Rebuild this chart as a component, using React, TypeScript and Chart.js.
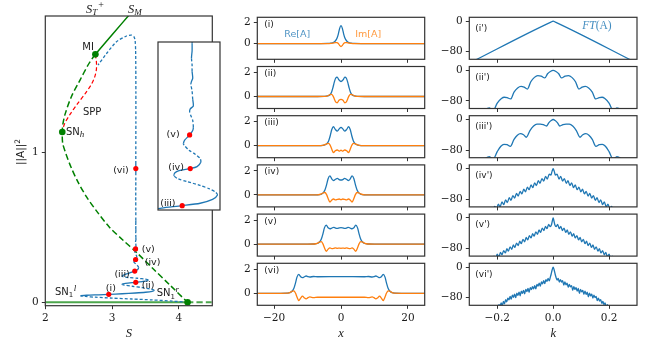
import React, { useEffect, useMemo, useRef } from "react";
import { Chart, registerables } from "chart.js";
Chart.register(...registerables);

// ---------------- Left panel: bifurcation diagram (S vs ||A||^2) ----------------
const homoUpperS = [2.75, 3.0, 3.3];
const homoUpperY = [1.65, 1.78, 1.935];
const homoMidS = [2.75, 2.7, 2.64, 2.52, 2.39, 2.3, 2.265, 2.254, 2.26, 2.3, 2.384, 2.49, 2.62, 2.78, 2.96, 3.16, 3.37, 3.61, 3.865, 4.13];
const homoMidY = [1.65, 1.62, 1.579, 1.479, 1.368, 1.257, 1.19, 1.133, 1.06, 1.0, 0.9, 0.8, 0.7, 0.6, 0.5, 0.415, 0.33, 0.225, 0.115, 0.0];
const homoLowS = [2.0, 4.13];
const homoLowY = [0, 0];
const homoLowDashS = [4.13, 4.5];
const homoLowDashY = [0, 0];
const sppS = [2.75, 2.765, 2.765, 2.74, 2.69, 2.6, 2.48, 2.37, 2.29, 2.255];
const sppY = [1.65, 1.6, 1.55, 1.5, 1.45, 1.39, 1.32, 1.25, 1.19, 1.14];
const markS = [2.75, 2.254, 4.13];
const markY = [1.65, 1.133, 0.0];

const snakeS = [4.13, 3.9, 3.6, 3.3, 3.0, 2.75, 2.6, 2.53, 2.62, 2.8, 2.95, 3.15, 3.35, 3.5, 3.6, 3.63, 3.58, 3.45, 3.3, 3.18,
  3.15, 3.2, 3.354, 3.45, 3.52, 3.54, 3.5, 3.38, 3.25, 3.17, 3.15, 3.18, 3.25, 3.306, 3.339, 3.368, 3.388, 3.396, 3.393, 3.383,
  3.368, 3.347, 3.332, 3.326, 3.327, 3.334, 3.352, 3.363, 3.369, 3.368, 3.36, 3.35, 3.342, 3.341, 3.343, 3.351, 3.356, 3.357, 3.356, 3.353,
  3.351, 3.352, 3.357, 3.356, 3.355, 3.353, 3.354, 3.356, 3.355, 3.355, 3.354, 3.355, 3.355, 3.355, 3.354, 3.355, 3.355, 3.355, 3.355, 3.356,
  3.356, 3.355, 3.352, 3.345, 3.33, 3.29, 3.215, 3.066, 2.92, 2.79];
const snakeY = [0.0, 0.008, 0.016, 0.022, 0.028, 0.034, 0.039, 0.043, 0.047, 0.05, 0.053, 0.057, 0.062, 0.067, 0.073, 0.08, 0.088, 0.098, 0.107, 0.115,
  0.121, 0.126, 0.133, 0.138, 0.143, 0.149, 0.154, 0.16, 0.165, 0.17, 0.176, 0.183, 0.193, 0.203, 0.208, 0.213, 0.221, 0.23, 0.236, 0.243,
  0.25, 0.258, 0.264, 0.27, 0.276, 0.281, 0.285, 0.289, 0.298, 0.306, 0.315, 0.323, 0.334, 0.337, 0.344, 0.355, 0.364, 0.371, 0.385, 0.395,
  0.402, 0.409, 0.415, 0.429, 0.446, 0.46, 0.466, 0.473, 0.487, 0.5, 0.515, 0.53, 0.545, 0.6, 0.7, 0.8, 0.86, 0.92, 1.0, 1.2,
  1.4, 1.55, 1.68, 1.74, 1.765, 1.778, 1.772, 1.734, 1.657, 1.579];
const snakeStable = [0, 0, 0, 0, 0, 0, 0, 1, 1, 1, 1, 1, 1, 1, 1, 0, 0, 0, 0, 0,
  1, 1, 1, 1, 1, 0, 0, 0, 0, 0, 1, 1, 1, 1, 1, 1, 1, 0, 0, 0,
  0, 0, 0, 1, 1, 1, 1, 1, 0, 0, 0, 0, 0, 1, 1, 1, 1, 0, 0, 0,
  1, 1, 1, 0, 0, 1, 1, 1, 0, 0, 1, 1, 0, 0, 0, 0, 1, 0, 0, 0,
  0, 0, 0, 0, 0, 0, 0, 0, 0, 0];
const dotS = [2.95, 3.354, 3.339, 3.352, 3.351, 3.355];
const dotY = [0.053, 0.133, 0.208, 0.285, 0.355, 0.89];

// ---------------- Middle panels: Re[A], Im[A] vs x ----------------
const xI = [-25, -6, -4, -3, -2.3, -1.7, -1.2, -0.8, -0.4, 0, 0.4, 0.8, 1.2, 1.7, 2.3, 3, 4, 6, 25];
const reI = [0, 0, 0.01, 0.04, 0.1, 0.24, 0.5, 0.9, 1.45, 1.7, 1.45, 0.9, 0.5, 0.24, 0.1, 0.04, 0.01, 0, 0];
const imI = [0, 0, 0, 0.02, 0.05, 0.08, 0.08, 0.0, -0.18, -0.28, -0.18, 0.0, 0.08, 0.08, 0.05, 0.02, 0, 0, 0];

const xII = [-25, -7, -5, -4, -3.3, -2.8, -2.4, -2.0, -1.6, -1.15, -0.6, 0, 0.6, 1.15, 1.6, 2.0, 2.4, 2.8, 3.3, 4, 5, 7, 25];
const reII = [0, 0, 0.01, 0.05, 0.15, 0.38, 0.75, 1.2, 1.52, 1.61, 1.38, 1.25, 1.38, 1.61, 1.52, 1.2, 0.75, 0.38, 0.15, 0.05, 0.01, 0, 0];
const imII = [0, 0, 0.01, 0.06, 0.15, 0.17, 0.05, -0.2, -0.45, -0.52, -0.32, -0.24, -0.32, -0.52, -0.45, -0.2, 0.05, 0.17, 0.15, 0.06, 0.01, 0, 0];

const xIII = [-25, -8, -6, -5, -4.3, -3.7, -3.2, -2.75, -2.25, -1.7, -1.1, -0.55, 0, 0.55, 1.1, 1.7, 2.25, 2.75, 3.2, 3.7, 4.3, 5, 6, 8, 25];
const reIII = [0, 0, 0.01, 0.05, 0.15, 0.4, 0.85, 1.35, 1.58, 1.36, 1.22, 1.4, 1.52, 1.4, 1.22, 1.36, 1.58, 1.35, 0.85, 0.4, 0.15, 0.05, 0.01, 0, 0];
const imIII = [0, 0, 0.01, 0.06, 0.16, 0.2, 0.02, -0.3, -0.57, -0.42, -0.36, -0.45, -0.38, -0.45, -0.36, -0.42, -0.57, -0.3, 0.02, 0.2, 0.16, 0.06, 0.01, 0, 0];

const xIV = [-25, -9, -7, -6, -5.4, -4.8, -4.3, -3.85, -3.3, -2.75, -2.2, -1.65, -1.1, -0.55, 0, 0.55, 1.1, 1.65, 2.2, 2.75, 3.3, 3.85, 4.3, 4.8, 5.4, 6, 7, 9, 25];
const reIV = [0, 0, 0.01, 0.05, 0.15, 0.4, 0.85, 1.35, 1.58, 1.33, 1.2, 1.3, 1.38, 1.28, 1.24, 1.28, 1.38, 1.3, 1.2, 1.33, 1.58, 1.35, 0.85, 0.4, 0.15, 0.05, 0.01, 0, 0];
const imIV = [0, 0, 0.01, 0.06, 0.16, 0.2, 0.02, -0.3, -0.6, -0.42, -0.34, -0.42, -0.38, -0.34, -0.4, -0.34, -0.38, -0.42, -0.34, -0.42, -0.6, -0.3, 0.02, 0.2, 0.16, 0.06, 0.01, 0, 0];

const xV = [-25, -10, -8, -7.1, -6.5, -5.9, -5.4, -4.95, -4.4, -3.85, -3.3, -2.75, -2.2, -1.65, -1.1, -0.55, 0, 0.55, 1.1, 1.65, 2.2, 2.75, 3.3, 3.85, 4.4, 4.95, 5.4, 5.9, 6.5, 7.1, 8, 10, 25];
const reV = [0, 0, 0.01, 0.05, 0.15, 0.4, 0.85, 1.35, 1.58, 1.36, 1.28, 1.34, 1.4, 1.34, 1.31, 1.35, 1.38, 1.35, 1.31, 1.34, 1.4, 1.34, 1.28, 1.36, 1.58, 1.35, 0.85, 0.4, 0.15, 0.05, 0.01, 0, 0];
const imV = [0, 0, 0.01, 0.06, 0.16, 0.2, 0.02, -0.3, -0.6, -0.42, -0.32, -0.38, -0.36, -0.32, -0.35, -0.33, -0.35, -0.33, -0.35, -0.32, -0.36, -0.38, -0.32, -0.42, -0.6, -0.3, 0.02, 0.2, 0.16, 0.06, 0.01, 0, 0];

const xVI = [-25, -18, -16, -15.3, -14.7, -14.1, -13.6, -13.15, -12.6, -12.05, -11.5, -10.95, -10.4, -9.85, -9.3, -8.2, -7, 0, 7, 8.2, 9.3, 9.85, 10.4, 10.95, 11.5, 12.05, 12.6, 13.15, 13.6, 14.1, 14.7, 15.3, 16, 18, 25];
const reVI = [0, 0, 0.01, 0.05, 0.15, 0.4, 0.85, 1.35, 1.58, 1.38, 1.3, 1.38, 1.44, 1.38, 1.36, 1.4, 1.38, 1.39, 1.38, 1.4, 1.36, 1.38, 1.44, 1.38, 1.3, 1.38, 1.58, 1.35, 0.85, 0.4, 0.15, 0.05, 0.01, 0, 0];
const imVI = [0, 0, 0.01, 0.06, 0.16, 0.2, 0.02, -0.3, -0.6, -0.4, -0.24, -0.38, -0.46, -0.36, -0.3, -0.36, -0.33, -0.33, -0.33, -0.36, -0.3, -0.36, -0.46, -0.38, -0.24, -0.4, -0.6, -0.3, 0.02, 0.2, 0.16, 0.06, 0.01, 0, 0];

// ---------------- Right panels: FT(A) in dB vs k ----------------
const kI = [-0.3, -0.008, 0, 0.008, 0.3];
const dbI = [-110, -2.5, 0, -2.5, -110];

const kII = [-0.3, -0.26, -0.24, -0.228, -0.215, -0.2, -0.185, -0.175, -0.165, -0.152, -0.14, -0.127, -0.115, -0.104, -0.092, -0.08, -0.067, -0.055, -0.043, -0.03, -0.02, -0.01, 0,
  0.01, 0.02, 0.03, 0.043, 0.055, 0.067, 0.08, 0.092, 0.104, 0.115, 0.127, 0.14, 0.152, 0.165, 0.175, 0.185, 0.2, 0.215, 0.228, 0.24, 0.26, 0.3];
const dbII = [-150, -125, -102, -98.5, -106, -86, -74, -70.5, -71.5, -75, -57, -46, -42, -44, -49, -30, -18.5, -14, -15, -20, -9, -3, 0,
  -3, -9, -20, -15, -14, -18.5, -30, -49, -44, -42, -46, -57, -75, -71.5, -70.5, -74, -86, -106, -98.5, -102, -125, -150];

const kIII = [-0.3, -0.26, -0.24, -0.228, -0.215, -0.2, -0.187, -0.176, -0.165, -0.153, -0.14, -0.128, -0.117, -0.106, -0.096, -0.083, -0.07, -0.058, -0.046, -0.035, -0.024, -0.015, -0.007, 0,
  0.007, 0.015, 0.024, 0.035, 0.046, 0.058, 0.07, 0.083, 0.096, 0.106, 0.117, 0.128, 0.14, 0.153, 0.165, 0.176, 0.187, 0.2, 0.215, 0.228, 0.24, 0.26, 0.3];
const dbIII = [-150, -122, -101, -97, -104, -84, -70, -65, -66, -70.5, -52, -41, -37, -40, -46.5, -29, -17, -12, -12, -13.5, -17, -8, -2.5, 0,
  -2.5, -8, -17, -13.5, -12, -12, -17, -29, -46.5, -40, -37, -41, -52, -70.5, -66, -65, -70, -84, -104, -97, -101, -122, -150];

const kIV = [-0.3, -0.222, -0.216, -0.209, -0.203, -0.196, -0.19, -0.183, -0.177, -0.17, -0.164, -0.157, -0.151, -0.144, -0.138, -0.131, -0.125, -0.118, -0.112, -0.105, -0.099, -0.092, -0.086, -0.079, -0.073, -0.066, -0.06, -0.053, -0.047, -0.04, -0.034, -0.027, -0.021, -0.014, -0.008, -0.004, 0,
  0.004, 0.008, 0.014, 0.021, 0.027, 0.034, 0.04, 0.047, 0.053, 0.06, 0.066, 0.073, 0.079, 0.086, 0.092, 0.099, 0.105, 0.112, 0.118, 0.125, 0.131, 0.138, 0.144, 0.151, 0.157, 0.164, 0.17, 0.177, 0.183, 0.19, 0.196, 0.203, 0.209, 0.216, 0.222, 0.3];
const dbIV = [-140, -104, -111, -98.4, -105, -92.8, -99.5, -87.2, -94, -81.6, -88.5, -76, -83, -70.4, -77, -64.8, -71.5, -59.2, -66, -53.6, -60.5, -48, -55, -42.5, -49.5, -36.9, -44, -31.3, -38, -25.7, -32.5, -20, -27, -14.5, -16.5, -7, 0,
  -7, -16.5, -14.5, -27, -20, -32.5, -25.7, -38, -31.3, -44, -36.9, -49.5, -42.5, -55, -48, -60.5, -53.6, -66, -59.2, -71.5, -64.8, -77, -70.4, -83, -76, -88.5, -81.6, -94, -87.2, -99.5, -92.8, -105, -98.4, -111, -104, -140];

const kV = [-0.3, -0.217, -0.2115, -0.206, -0.2, -0.194, -0.1885, -0.183, -0.177, -0.171, -0.1655, -0.16, -0.154, -0.148, -0.1425, -0.137, -0.131, -0.125, -0.1195, -0.114, -0.108, -0.102, -0.0965, -0.091, -0.085, -0.079, -0.0735, -0.068, -0.062, -0.056, -0.0505, -0.045, -0.039, -0.033, -0.0275, -0.022, -0.016, -0.0105, -0.006, -0.003, 0,
  0.003, 0.006, 0.0105, 0.016, 0.022, 0.0275, 0.033, 0.039, 0.045, 0.0505, 0.056, 0.062, 0.068, 0.0735, 0.079, 0.085, 0.091, 0.0965, 0.102, 0.108, 0.114, 0.1195, 0.125, 0.131, 0.137, 0.1425, 0.148, 0.154, 0.16, 0.1655, 0.171, 0.177, 0.183, 0.1885, 0.194, 0.2, 0.206, 0.2115, 0.217, 0.3];
const dbV = [-140, -111.5, -100.1, -106.5, -95.2, -101.5, -90.3, -96.7, -85.4, -91.8, -80.6, -86.9, -75.7, -82, -70.8, -77.1, -65.9, -72.2, -61, -67.3, -56.1, -62.5, -51.2, -57.5, -46.3, -52.5, -41.4, -47.7, -36.6, -42.8, -31.7, -38, -26.8, -33, -21.9, -28, -17, -23, -18, -8, 0,
  -8, -18, -23, -17, -28, -21.9, -33, -26.8, -38, -31.7, -42.8, -36.6, -47.7, -41.4, -52.5, -46.3, -57.5, -51.2, -62.5, -56.1, -67.3, -61, -72.2, -65.9, -77.1, -70.8, -82, -75.7, -86.9, -80.6, -91.8, -85.4, -96.7, -90.3, -101.5, -95.2, -106.5, -100.1, -111.5, -140];

const kVI = [-0.214, -0.21, -0.206, -0.202, -0.198, -0.194, -0.19, -0.186, -0.182, -0.178, -0.174, -0.17, -0.166, -0.162, -0.158, -0.154, -0.15, -0.146, -0.142, -0.138, -0.134, -0.13, -0.126, -0.122, -0.118, -0.114,
  -0.11, -0.106, -0.102, -0.098, -0.094, -0.09, -0.086, -0.082, -0.078, -0.074, -0.07, -0.066, -0.062, -0.058, -0.054, -0.05, -0.046, -0.042, -0.038, -0.034, -0.03, -0.026, -0.022, -0.018, -0.014, -0.01, -0.007, -0.0035, 0,
  0.0035, 0.007, 0.01, 0.014, 0.018, 0.022, 0.026, 0.03, 0.034, 0.038, 0.042, 0.046, 0.05, 0.054, 0.058, 0.062, 0.066, 0.07, 0.074, 0.078, 0.082, 0.086, 0.09, 0.094, 0.098, 0.102, 0.106,
  0.11, 0.114, 0.118, 0.122, 0.126, 0.13, 0.134, 0.138, 0.142, 0.146, 0.15, 0.154, 0.158, 0.162, 0.166, 0.17, 0.174, 0.178, 0.182, 0.186, 0.19, 0.194, 0.198, 0.202, 0.206, 0.21, 0.214];
const dbVI = [-113, -106, -110, -102, -108, -98, -103, -94, -101, -90, -96, -85, -91, -81, -86, -76.5, -84, -73.5, -79, -71, -80, -68, -74, -65.5, -75, -63,
  -69, -61, -70, -58.5, -64, -56, -66, -53.5, -59, -51, -57, -48.5, -57, -45, -50, -42, -50, -39, -44, -35.5, -43, -32.5, -37, -29.5, -36, -26, -18, -7, 0,
  -7, -18, -26, -34, -29.5, -39, -32.5, -39, -35.5, -47, -39, -46.5, -42, -52.5, -45, -52, -48.5, -61, -51, -58.5, -53.5, -63, -56, -69, -58.5, -64.5, -61,
  -71, -63, -71.5, -65.5, -78, -68, -75.5, -71, -81, -73.5, -80, -76.5, -88, -81, -89, -85, -95, -90, -98, -94, -105, -98, -106, -102, -112, -106, -114];

// ---------------- styling ----------------
const SANS = '"DejaVu Sans", "Noto Sans", sans-serif';
const SERIF = '"DejaVu Serif", "Liberation Serif", serif';
const ISERIF = '"Liberation Serif", "DejaVu Serif", serif';
const BLUE = "#1f77b4";
const ORANGE = "#ff7f0e";
const GREEN = "#008000";
const RED = "#ff0000";
const FRAME = "#333333";
const TXT = "#1a1a1a";

const pts = (xs: number[], ys: number[]) => xs.map((x, i) => ({ x, y: ys[i] }));
const fmtNum = (v: number, d = 0) => {
  const s = Math.abs(v).toFixed(d);
  return v < 0 ? "\u2212" + s : s;
};

type Part = { t: string; f: string; dy?: number; dx?: number; c?: string };
type Label = { at: "data" | "page" | "area"; x: number; y: number; parts: Part[]; align?: "left" | "center" | "right"; rot?: number; c?: string };
type AxisSpec = { min: number; max: number; ticks: number[]; labels: boolean; fmt: (v: number) => string };
type PanelSpec = {
  box: [number, number, number, number];
  area: [number, number, number, number];
  x: AxisSpec;
  y: AxisSpec;
  axes: boolean;
  datasets: any[];
  labels: Label[];
  bg?: string;
};

function decoPlugin(spec: PanelSpec) {
  return {
    id: "deco",
    beforeDatasetsDraw(chart: any) {
      if (!spec.bg) return;
      const { ctx, chartArea: a } = chart;
      ctx.save();
      ctx.fillStyle = spec.bg;
      ctx.fillRect(a.left, a.top, a.right - a.left, a.bottom - a.top);
      ctx.restore();
    },
    afterDraw(chart: any) {
      const { ctx, chartArea: a, scales } = chart;
      ctx.save();
      ctx.strokeStyle = FRAME;
      ctx.lineWidth = 1.2;
      ctx.strokeRect(a.left, a.top, a.right - a.left, a.bottom - a.top);
      for (const L of spec.labels) {
        let px: number, py: number;
        if (L.at === "data") {
          px = scales.x.getPixelForValue(L.x);
          py = scales.y.getPixelForValue(L.y);
        } else if (L.at === "area") {
          px = a.left + L.x;
          py = a.top + L.y;
        } else {
          px = L.x - spec.box[0];
          py = L.y - spec.box[1];
        }
        ctx.save();
        ctx.translate(px, py);
        if (L.rot) ctx.rotate(L.rot);
        ctx.textBaseline = "alphabetic";
        ctx.textAlign = "left";
        let w = 0;
        for (const p of L.parts) {
          ctx.font = p.f;
          w += ctx.measureText(p.t).width + (p.dx || 0);
        }
        let cx = L.align === "right" ? -w : L.align === "center" ? -w / 2 : 0;
        for (const p of L.parts) {
          ctx.font = p.f;
          ctx.fillStyle = p.c || L.c || TXT;
          cx += p.dx || 0;
          ctx.fillText(p.t, cx, p.dy || 0);
          cx += ctx.measureText(p.t).width;
        }
        ctx.restore();
      }
      ctx.restore();
    },
  };
}

function buildConfig(p: PanelSpec): any {
  const [bx, by, bw, bh] = p.box;
  const [l, t, r, b] = p.area;
  const yW = l - bx;
  const xH = by + bh - b;
  const padding = p.axes
    ? { left: 0, top: t - by, right: bx + bw - r, bottom: 0 }
    : { left: l - bx, top: t - by, right: bx + bw - r, bottom: by + bh - b };
  const mkScale = (s: AxisSpec, horiz: boolean) => ({
    type: "linear",
    display: p.axes,
    position: horiz ? "bottom" : "left",
    min: s.min,
    max: s.max,
    afterBuildTicks: (sc: any) => {
      sc.ticks = s.ticks.map((v) => ({ value: v }));
    },
    afterFit: (sc: any) => {
      if (!p.axes) return;
      if (horiz) sc.height = xH;
      else sc.width = yW;
      sc.paddingTop = 0;
      sc.paddingBottom = 0;
      sc.paddingLeft = 0;
      sc.paddingRight = 0;
    },
    ticks: {
      display: s.labels,
      autoSkip: false,
      maxRotation: 0,
      minRotation: 0,
      padding: 3,
      color: TXT,
      font: { family: SERIF, size: 10.5 },
      callback: (v: any) => s.fmt(Number(v)),
    },
    grid: {
      display: true,
      drawOnChartArea: false,
      drawTicks: true,
      tickLength: 3.5,
      tickWidth: 1,
      tickColor: FRAME,
      color: FRAME,
    },
    border: { display: false },
  });
  return {
    type: "line",
    data: { datasets: p.datasets },
    options: {
      animation: false,
      responsive: false,
      devicePixelRatio: 1,
      events: [],
      layout: { padding },
      plugins: { legend: { display: false }, tooltip: { enabled: false }, title: { display: false } },
      scales: { x: mkScale(p.x, true), y: mkScale(p.y, false) },
    },
    plugins: [decoPlugin(p)],
  };
}

const line = (data: any[], color: string, width: number, dash: number[] = [], extra: any = {}) => ({
  data,
  borderColor: color,
  backgroundColor: color,
  borderWidth: width,
  borderDash: dash,
  pointRadius: 0,
  fill: false,
  tension: 0.3,
  ...extra,
});

const dots = (data: any[], color: string, radius: number) => ({
  data,
  showLine: false,
  pointRadius: radius,
  pointBackgroundColor: color,
  pointBorderColor: color,
  pointBorderWidth: 0,
  borderColor: color,
  backgroundColor: color,
});

function snakeDataset(width: number) {
  return line(pts(snakeS, snakeY), BLUE, width, [], {
    tension: 0.25,
    segment: { borderDash: (ctx: any) => (snakeStable[ctx.p0DataIndex] ? undefined : [3, 2]) },
  });
}

function buildSpecs(): PanelSpec[] {
  const specs: PanelSpec[] = [];
  const sans = (s: number) => `${s}px ${SANS}`;
  const serif = (s: number) => `${s}px ${ISERIF}`;
  const iserif = (s: number) => `italic ${s}px ${ISERIF}`;

  // Left main
  specs.push({
    box: [0, 0, 232, 340],
    area: [45.3, 16, 212.3, 305.7],
    axes: true,
    x: { min: 2, max: 4.5, ticks: [2, 3, 4], labels: true, fmt: (v) => fmtNum(v) },
    y: { min: -0.0225, max: 1.905, ticks: [0, 1], labels: true, fmt: (v) => fmtNum(v) },
    datasets: [
      dots(pts(dotS, dotY), RED, 2.6),
      dots(pts(markS, markY), GREEN, 3.3),
      snakeDataset(1.3),
      line(pts(sppS, sppY), RED, 1.2, [4, 2.5]),
      line(pts(homoUpperS, homoUpperY), GREEN, 1.5),
      line(pts(homoMidS, homoMidY), GREEN, 1.5, [6, 3]),
      line(pts(homoLowS, homoLowY), "rgba(0,128,0,0.7)", 2),
      line(pts(homoLowDashS, homoLowDashY), "rgba(0,128,0,0.7)", 2, [6, 3]),
    ],
    labels: [
      { at: "data", x: 2.727, y: 1.678, align: "right", parts: [{ t: "MI", f: sans(10) }] },
      { at: "data", x: 2.563, y: 1.245, parts: [{ t: "SPP", f: sans(10) }] },
      { at: "data", x: 2.309, y: 1.115, parts: [{ t: "SN", f: sans(10) }, { t: "h", f: iserif(9), dy: 2.5 }] },
      { at: "data", x: 3.25, y: 0.86, align: "right", parts: [{ t: "(vi)", f: sans(9.5) }] },
      { at: "data", x: 3.444, y: 0.335, parts: [{ t: "(v)", f: sans(9.5) }] },
      { at: "data", x: 3.488, y: 0.248, parts: [{ t: "(iv)", f: sans(9.5) }] },
      { at: "data", x: 3.264, y: 0.168, align: "right", parts: [{ t: "(iii)", f: sans(9.5) }] },
      { at: "data", x: 3.444, y: 0.095, parts: [{ t: "(ii)", f: sans(9.5) }] },
      { at: "data", x: 2.906, y: 0.075, parts: [{ t: "(i)", f: sans(9.5) }] },
      { at: "data", x: 2.145, y: 0.05, parts: [{ t: "SN", f: sans(10) }, { t: "1", f: sans(7), dy: 2.5 }, { t: "l", f: iserif(9), dy: -4, dx: 0.5 }] },
      { at: "data", x: 3.667, y: 0.042, parts: [{ t: "SN", f: sans(10) }, { t: "1", f: sans(7), dy: 2.5 }, { t: "r", f: iserif(9), dy: -4, dx: 0.5 }] },
      { at: "page", x: 86, y: 12.5, parts: [{ t: "S", f: iserif(12.5) }, { t: "T", f: iserif(9), dy: 2.5 }, { t: "+", f: serif(10), dy: -4.5, dx: 1 }] },
      { at: "page", x: 128, y: 12.5, parts: [{ t: "S", f: iserif(12.5) }, { t: "M", f: iserif(9), dy: 2.5 }] },
      { at: "page", x: 128.8, y: 337, align: "center", parts: [{ t: "S", f: iserif(12.5) }] },
      { at: "page", x: 24, y: 152, align: "center", rot: -Math.PI / 2, parts: [{ t: "||A||", f: sans(10.5) }, { t: "2", f: sans(7.5), dy: -4.5 }] },
    ],
  });

  // Inset
  specs.push({
    box: [154, 38, 70, 176],
    area: [156, 40, 221, 211],
    axes: false,
    bg: "#ffffff",
    x: { min: 3.3, max: 3.4, ticks: [], labels: false, fmt: (v) => String(v) },
    y: { min: 0.199, max: 0.548, ticks: [], labels: false, fmt: (v) => String(v) },
    datasets: [dots(pts(dotS, dotY), RED, 2.6), snakeDataset(1.3)],
    labels: [
      { at: "data", x: 3.3138, y: 0.35, parts: [{ t: "(v)", f: sans(9.5) }] },
      { at: "data", x: 3.3165, y: 0.283, parts: [{ t: "(iv)", f: sans(9.5) }] },
      { at: "data", x: 3.3036, y: 0.207, parts: [{ t: "(iii)", f: sans(9.5) }] },
    ],
  });

  const tops = [17.3, 66.5, 115.7, 164.9, 214.1, 263.3];
  const profX = [xI, xII, xIII, xIV, xV, xVI];
  const profRe = [reI, reII, reIII, reIV, reV, reVI];
  const profIm = [imI, imII, imIII, imIV, imV, imVI];
  const names = ["(i)", "(ii)", "(iii)", "(iv)", "(v)", "(vi)"];
  const ftK = [kI, kII, kIII, kIV, kV, kVI];
  const ftDb = [dbI, dbII, dbIII, dbIV, dbV, dbVI];

  for (let i = 0; i < 6; i++) {
    const top = tops[i];
    const last = i === 5;
    const by = Math.floor(top) - 12;
    const bh = last ? 340 - by : 68;
    const labels: Label[] = [{ at: "area", x: 7, y: 9.5, parts: [{ t: names[i], f: sans(9) }] }];
    if (i === 0) {
      labels.push({ at: "area", x: 27, y: 19.2, parts: [{ t: "Re[A]", f: sans(9.5), c: "rgba(31,119,180,0.8)" }] });
      labels.push({ at: "area", x: 98, y: 19.2, parts: [{ t: "Im[A]", f: sans(9.5), c: "rgba(255,127,14,0.8)" }] });
    }
    if (last) labels.push({ at: "page", x: 341, y: 337, align: "center", parts: [{ t: "x", f: iserif(12.5) }] });
    specs.push({
      box: [218, by, 217, bh],
      area: [257.3, top, 424.7, top + 42],
      axes: true,
      x: { min: -25, max: 25, ticks: [-20, 0, 20], labels: last, fmt: (v) => fmtNum(v) },
      y: { min: i === 0 ? -1.5 : -1, max: 2.5, ticks: [0, 2], labels: true, fmt: (v) => fmtNum(v) },
      datasets: [
        line(pts(profX[i], profIm[i]), ORANGE, 1.3, [], { tension: 0, cubicInterpolationMode: "monotone" }),
        line(pts(profX[i], profRe[i]), BLUE, 1.3, [], { tension: 0, cubicInterpolationMode: "monotone" }),
      ],
      labels,
    });
  }

  for (let i = 0; i < 6; i++) {
    const top = tops[i];
    const last = i === 5;
    const by = Math.floor(top) - 12;
    const bh = last ? 340 - by : 68;
    const labels: Label[] = [{ at: "area", x: 6, y: 13.3, parts: [{ t: names[i].replace(")", "')"), f: sans(9) }] }];
    if (i === 0) {
      labels.push({ at: "area", x: 113, y: 12, c: "rgba(31,119,180,0.85)", parts: [{ t: "FT", f: iserif(11.5) }, { t: "(A)", f: serif(11.5) }] });
    }
    if (last) labels.push({ at: "page", x: 553.2, y: 337, align: "center", parts: [{ t: "k", f: iserif(12.5) }] });
    specs.push({
      box: [430, by, 220, bh],
      area: [469.3, top, 637, top + 42],
      axes: true,
      x: { min: -0.3, max: 0.3, ticks: [-0.2, 0, 0.2], labels: last, fmt: (v) => fmtNum(v, 1) },
      y: { min: -100, max: 10, ticks: [-80, 0], labels: true, fmt: (v) => fmtNum(v) },
      datasets: [line(pts(ftK[i], ftDb[i]), BLUE, 1.3, [], { tension: 0, cubicInterpolationMode: "monotone" })],
      labels,
    });
  }
  return specs;
}

export default function App() {
  const refs = useRef<(HTMLCanvasElement | null)[]>([]);
  const specs = useMemo(() => buildSpecs(), []);
  useEffect(() => {
    const charts = specs.map((s, i) => new Chart(refs.current[i] as HTMLCanvasElement, buildConfig(s)));
    return () => charts.forEach((c) => c.destroy());
  }, [specs]);
  return (
    <div style={{ position: "absolute", left: 0, top: 0, width: 650, height: 340, background: "#fff", overflow: "hidden" }}>
      {specs.map((s, i) => (
        <canvas
          key={i}
          ref={(el) => {
            refs.current[i] = el;
          }}
          width={s.box[2]}
          height={s.box[3]}
          style={{ position: "absolute", left: s.box[0], top: s.box[1], width: s.box[2], height: s.box[3] }}
        />
      ))}
    </div>
  );
}
